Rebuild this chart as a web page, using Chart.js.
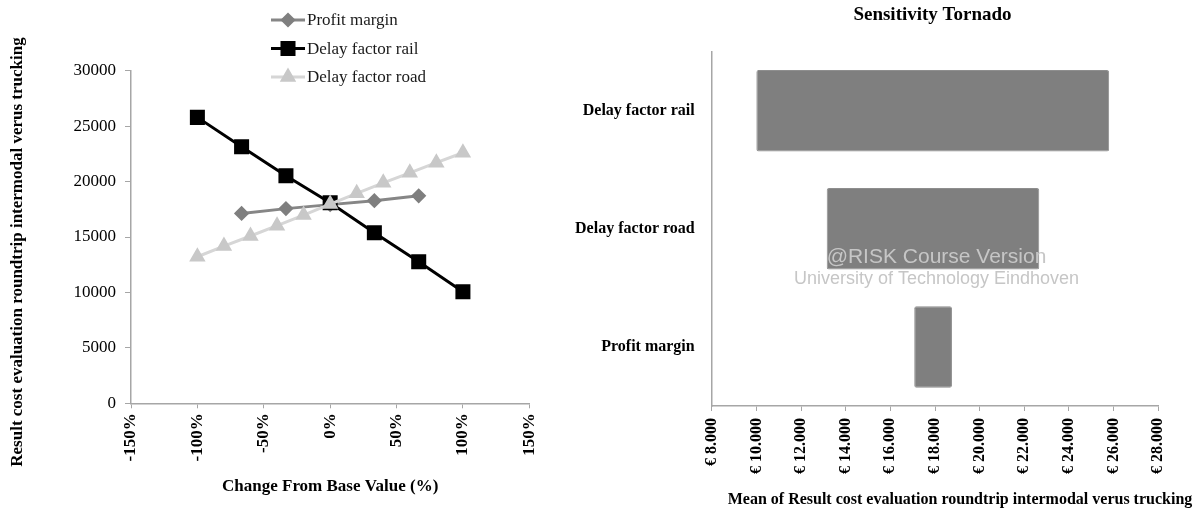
<!DOCTYPE html>
<html>
<head>
<meta charset="utf-8">
<script src="https://cdn.jsdelivr.net/npm/chart.js@4/dist/chart.umd.min.js"></script>
<style>
  html, body { margin: 0; padding: 0; background: #fff; }
  #left { position: absolute; left: 0; top: 0; width: 560px; height: 510px; }
  #right { position: absolute; left: 560px; top: 0; width: 636px; height: 510px; }
</style>
</head>
<body>
<div id="left"><canvas id="spiderChart"></canvas></div>
<div id="right"><canvas id="tornadoChart"></canvas></div>
<script>
// spider plot data (% change from base value -> result)
const profitChange = [-66.7, -33.3, 0, 33.3, 66.7];
const profitValues = [17130, 17560, 17920, 18280, 18720];
const railChange = [-100, -66.7, -33.3, 0, 33.3, 66.7, 100];
const railValues = [25790, 23140, 20520, 18090, 15380, 12770, 10060];
const roadChange = [-100, -80, -60, -40, -20, 0, 20, 40, 60, 80, 100];
const roadValues = [13220, 14180, 15090, 16020, 16980, 17970, 18940, 19890, 20790, 21700, 22600];

// tornado data (low / high of mean result)
const tornadoLabels = ['Delay factor rail', 'Delay factor road', 'Profit margin'];
const tornadoLow = [10000, 13150, 17070];
const tornadoHigh = [25800, 22670, 18760];

const serif = "'Liberation Serif', 'Times New Roman', serif";
const axisGray = '#a6a6a6';

function toPoints(xs, ys) {
    return xs.map((x, i) => ({ x: x, y: ys[i] }));
}

// legend with line + marker, drawn in the top padding; y axis title too
const spiderLegend = {
    id: 'spiderLegend',
    afterDraw(chart) {
        const ctx = chart.ctx;
        const startX = 271, startY = 20, rowGap = 28.5;
        const items = chart.data.datasets.slice().sort((a, b) => a.legendRank - b.legendRank);
        ctx.save();
        items.forEach((ds, i) => {
            const y = startY + i * rowGap;
            ctx.strokeStyle = ds.borderColor;
            ctx.lineWidth = 3;
            ctx.beginPath();
            ctx.moveTo(startX, y);
            ctx.lineTo(startX + 34, y);
            ctx.stroke();
            ctx.fillStyle = ds.pointBackgroundColor;
            ctx.strokeStyle = ds.pointBorderColor;
            Chart.helpers.drawPoint(ctx, { pointStyle: ds.pointStyle, radius: ds.pointRadius, rotation: 0, borderWidth: 1 }, startX + 17, y);
            ctx.fillStyle = '#1a1a1a';
            ctx.font = '17px ' + serif;
            ctx.textBaseline = 'middle';
            ctx.textAlign = 'left';
            ctx.fillText(ds.label, startX + 36, y + 1);
        });

        // y axis title sits a bit below the axis centre in the original
        ctx.translate(18, 252);
        ctx.rotate(-Math.PI / 2);
        ctx.fillStyle = '#000';
        ctx.font = 'bold 17px ' + serif;
        ctx.textAlign = 'center';
        ctx.fillText('Result cost evaluation roundtrip intermodal verus trucking', 0, 0);
        ctx.restore();
    }
};

new Chart(document.getElementById('spiderChart'), {
    type: 'line',
    data: {
        datasets: [
            {
                label: 'Delay factor road',
                legendRank: 2,
                order: 0,
                data: toPoints(roadChange, roadValues),
                borderColor: '#d6d6d6',
                borderWidth: 3,
                pointStyle: 'triangle',
                pointRadius: 6.5,
                pointBackgroundColor: '#c8c8c8',
                pointBorderColor: '#c8c8c8',
                tension: 0
            },
            {
                label: 'Delay factor rail',
                legendRank: 1,
                order: 1,
                data: toPoints(railChange, railValues),
                borderColor: '#000000',
                borderWidth: 3,
                pointStyle: 'rect',
                pointRadius: 8.5,
                pointBackgroundColor: '#000000',
                pointBorderColor: '#000000',
                tension: 0
            },
            {
                label: 'Profit margin',
                legendRank: 0,
                order: 2,
                data: toPoints(profitChange, profitValues),
                borderColor: '#868686',
                borderWidth: 3,
                pointStyle: 'rectRot',
                pointRadius: 5.5,
                pointBackgroundColor: '#7f7f7f',
                pointBorderColor: '#7f7f7f',
                tension: 0
            }
        ]
    },
    options: {
        responsive: true,
        maintainAspectRatio: false,
        animation: false,
        layout: { padding: { top: 70.7, right: 30.7, left: 0, bottom: 0 } },
        plugins: { legend: { display: false }, tooltip: { enabled: false } },
        scales: {
            x: {
                type: 'linear',
                min: -150,
                max: 150,
                afterFit: scale => { scale.height = 106.7; },
                border: { color: axisGray, width: 1.5 },
                grid: { drawOnChartArea: false, drawTicks: true, tickLength: 5, color: axisGray },
                ticks: {
                    stepSize: 50,
                    minRotation: 90,
                    maxRotation: 90,
                    padding: 5,
                    color: '#000',
                    font: { family: serif, size: 17, weight: 'bold' },
                    callback: v => v + '%'
                },
                title: {
                    display: true,
                    text: 'Change From Base Value (%)',
                    color: '#000',
                    font: { family: serif, size: 17, weight: 'bold' },
                    padding: { top: 0, bottom: 13 }
                }
            },
            y: {
                min: 0,
                max: 30000,
                afterFit: scale => { scale.width = 131; },
                border: { color: axisGray, width: 1.5 },
                grid: { drawOnChartArea: false, drawTicks: true, tickLength: 6, color: axisGray },
                ticks: {
                    stepSize: 5000,
                    padding: 9,
                    color: '#000',
                    font: { family: serif, size: 17 },
                    callback: v => String(v)
                }
            }
        }
    },
    plugins: [spiderLegend]
});

// title, axis title and watermark for the tornado chart
const tornadoText = {
    id: 'tornadoText',
    afterDatasetsDraw(chart) {
        const ctx = chart.ctx;
        const a = chart.chartArea;
        const cx = (a.left + a.right) / 2 + 1.5;
        ctx.save();
        ctx.textAlign = 'center';
        ctx.textBaseline = 'middle';
        ctx.fillStyle = '#c6c6c6';
        ctx.font = "21px 'Liberation Sans', Arial, sans-serif";
        ctx.fillText('@RISK Course Version', cx, 257);
        ctx.font = "18px 'Liberation Sans', Arial, sans-serif";
        ctx.fillText('University of Technology Eindhoven', cx, 279);
        ctx.restore();
    },
    afterDraw(chart) {
        const ctx = chart.ctx;
        const a = chart.chartArea;
        const cx = (a.left + a.right) / 2;
        ctx.save();
        ctx.textAlign = 'center';
        ctx.textBaseline = 'middle';
        ctx.fillStyle = '#000';
        ctx.font = 'bold 19px ' + serif;
        ctx.fillText('Sensitivity Tornado', cx - 2.5, 15);
        ctx.font = 'bold 16px ' + serif;
        ctx.fillText('Mean of Result cost evaluation roundtrip intermodal verus trucking', cx + 25, 500);
        ctx.restore();
    }
};

new Chart(document.getElementById('tornadoChart'), {
    type: 'bar',
    data: {
        labels: tornadoLabels,
        datasets: [{
            data: tornadoLabels.map((l, i) => [tornadoLow[i], tornadoHigh[i]]),
            backgroundColor: '#7f7f7f',
            borderColor: '#8e8e8e',
            borderWidth: 1,
            borderSkipped: false,
            borderRadius: 2,
            barPercentage: 0.69,
            categoryPercentage: 1
        }]
    },
    options: {
        indexAxis: 'y',
        responsive: true,
        maintainAspectRatio: false,
        animation: false,
        layout: { padding: { top: 51.7, right: 37.7, left: 0, bottom: 0 } },
        plugins: { legend: { display: false }, tooltip: { enabled: false } },
        scales: {
            x: {
                min: 8000,
                max: 28000,
                afterFit: scale => { scale.height = 104; },
                border: { color: axisGray, width: 1.5 },
                grid: { drawOnChartArea: false, drawTicks: true, tickLength: 5, color: axisGray },
                ticks: {
                    stepSize: 2000,
                    minRotation: 90,
                    maxRotation: 90,
                    padding: 7,
                    color: '#000',
                    font: { family: serif, size: 16, weight: 'bold' },
                    callback: v => '€ ' + (v / 1000).toFixed(3)
                }
            },
            y: {
                afterFit: scale => { scale.width = 151.7; },
                border: { color: axisGray, width: 1.5 },
                grid: { display: false, drawTicks: false },
                ticks: {
                    padding: 17,
                    color: '#000',
                    font: { family: serif, size: 16, weight: 'bold' }
                }
            }
        }
    },
    plugins: [tornadoText]
});
</script>
</body>
</html>
